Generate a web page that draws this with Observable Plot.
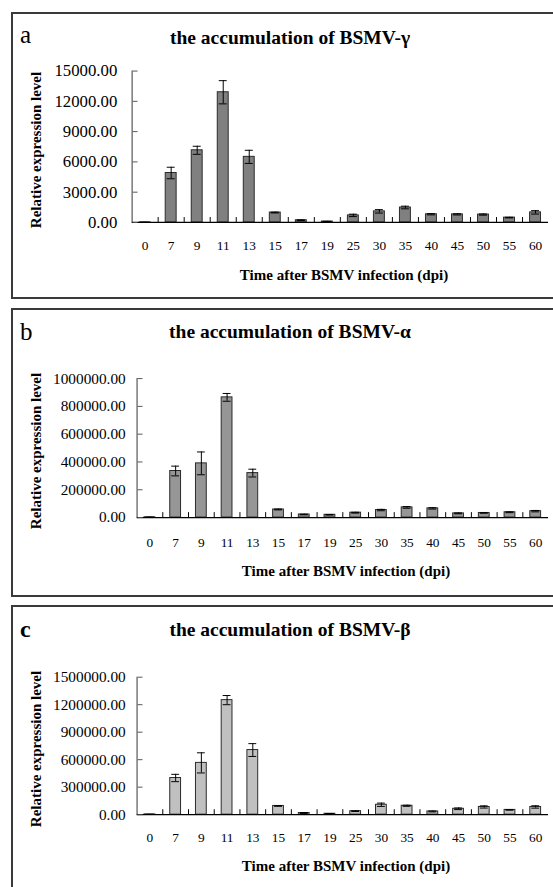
<!DOCTYPE html>
<html><head><meta charset="utf-8">
<script src="https://cdn.jsdelivr.net/npm/d3@7"></script>
<script src="https://cdn.jsdelivr.net/npm/@observablehq/plot@0.6"></script>
<style>
html,body{margin:0;padding:0;background:#fff;width:553px;height:887px;overflow:hidden;}
#root{position:relative;width:553px;height:887px;font-family:"Liberation Serif","Times New Roman",serif;color:#000;overflow:hidden;}
#root svg, #root svg text{font-family:"Liberation Serif","Times New Roman",serif !important;}
.panel{position:absolute;left:11px;width:580px;border:2px solid #3a3a3a;box-sizing:border-box;}
.t{position:absolute;white-space:nowrap;line-height:1;}
.wrap{position:absolute;left:0;}
</style></head><body><div id="root"></div><script>
// ---- data ----
const days = ["0","7","9","11","13","15","17","19","25","30","35","40","45","50","55","60"];
const gammaMean = [10, 4900, 7150, 12900, 6500, 980, 220, 90, 700, 1100, 1480, 810, 800, 780, 480, 1000];
const gammaErr  = [5, 570, 400, 1150, 650, 40, 30, 20, 120, 170, 130, 60, 60, 60, 30, 170];
const alphaMean = [2000, 335000, 390000, 865000, 320000, 58000, 22000, 20000, 35000, 54000, 73000, 66000, 30000, 33000, 38000, 46000];
const alphaErr  = [500, 35000, 82000, 28000, 28000, 3000, 2000, 2000, 3000, 5000, 6000, 5000, 3000, 2000, 3000, 5000];
const betaMean  = [3000, 400000, 565000, 1250000, 705000, 95000, 18000, 10000, 38000, 108000, 97000, 35000, 64000, 84000, 52000, 84000];
const betaErr   = [500, 40000, 110000, 50000, 70000, 4000, 5000, 2000, 4000, 18000, 6000, 5000, 9000, 12000, 3000, 13000];
const gammaTicks = [0, 3000, 6000, 9000, 12000, 15000];
const alphaTicks = [0, 200000, 400000, 600000, 800000, 1000000];
const betaTicks  = [0, 300000, 600000, 900000, 1200000, 1500000];
const titles = ["the accumulation of BSMV-γ", "the accumulation of BSMV-α", "the accumulation of BSMV-β"];
const letters = ["a", "b", "c"];
const yTitle = "Relative expression level";
const xTitle = "Time after BSMV infection (dpi)";

// ---- layout ----
const layout = [
  {mean: gammaMean, err: gammaErr, ticks: gammaTicks, fill: "#808080", top: 12, h: 287, svgTop: 12.7, mt: 58.3, mb: 73.4, ml: 133.3, yFont: 17, yPad: 15, xPad: 18,
   letterBase: 43.3, letterBold: false, titleBase: 44, yTitleY: 150, xTitleBase: 281, xTitleX: 344},
  {mean: alphaMean, err: alphaErr, ticks: alphaTicks, fill: "#969696", top: 307.5, h: 289.5, svgTop: 308.3, mt: 71, mb: 73.3, ml: 138.3, yFont: 15.5, yPad: 11.5, xPad: 20,
   letterBase: 340, letterBold: false, titleBase: 338.5, yTitleY: 451, xTitleBase: 577, xTitleX: 346},
  {mean: betaMean, err: betaErr, ticks: betaTicks, fill: "#c0c0c0", top: 605, h: 290, svgTop: 605.7, mt: 71.6, mb: 74.2, ml: 138.3, yFont: 15.5, yPad: 11.5, xPad: 18,
   letterBase: 636.7, letterBold: true, titleBase: 636, yTitleY: 748.5, xTitleBase: 872, xTitleX: 346}
];

const serif = "'Liberation Serif', 'Times New Roman', serif";
const root = document.getElementById("root");
function addText(txt, {x, base, fs, bold, anchor = "middle"}) {
  const d = document.createElement("div");
  d.className = "t";
  d.textContent = txt;
  d.style.fontSize = fs + "px";
  d.style.fontWeight = bold ? "bold" : "normal";
  d.style.left = x + "px";
  d.style.top = (base - 0.8375 * fs) + "px";
  if (anchor === "middle") d.style.transform = "translateX(-50%)";
  root.appendChild(d);
  return d;
}

layout.forEach((L, k) => {
  const box = document.createElement("div");
  box.className = "panel";
  box.style.top = L.top + "px";
  box.style.height = L.h + "px";
  root.appendChild(box);

  addText(letters[k], {x: 20, base: L.letterBase, fs: L.letterBold ? 24 : 25, bold: L.letterBold, anchor: "start"});
  addText(titles[k], {x: 290, base: L.titleBase, fs: 19.5, bold: true});
  addText(xTitle, {x: L.xTitleX, base: L.xTitleBase, fs: 15, bold: true});
  const yt = document.createElement("div");
  yt.className = "t";
  yt.textContent = yTitle;
  yt.style.fontSize = "15px";
  yt.style.fontWeight = "bold";
  yt.style.left = "35.5px";
  yt.style.top = L.yTitleY + "px";
  yt.style.transform = "translate(-50%,-50%) rotate(-90deg)";
  root.appendChild(yt);

  const data = days.map((d, i) => ({day: d, v: L.mean[i], e: L.err[i]}));
  const width = 560, height = 285, mr = 5;
  const plotW = width - L.ml - mr;
  const plotH = height - L.mt - L.mb;
  const step = plotW / days.length;
  const ymax = L.ticks[L.ticks.length - 1];

  const chart = Plot.plot({
    width, height,
    marginTop: L.mt, marginBottom: L.mb, marginLeft: L.ml, marginRight: mr,
    style: {fontFamily: serif, background: "transparent", overflow: "visible", color: "#000"},
    x: {type: "band", domain: days, paddingInner: 0.58, paddingOuter: 0.29, align: 0.5, round: false},
    y: {domain: [0, ymax]},
    marks: [
      Plot.barY(data, {x: "day", y: "v", fill: L.fill, stroke: "#2a2a2a", strokeWidth: 1}),
      Plot.ruleX(data, {x: "day", y1: d => d.v - d.e, y2: d => d.v + d.e, stroke: "#000", strokeWidth: 1}),
      Plot.tickY(data, {x: "day", y: d => d.v + d.e, stroke: "#000", insetLeft: 1.5, insetRight: 1.5}),
      Plot.tickY(data, {x: "day", y: d => Math.max(0, d.v - d.e), stroke: "#000", insetLeft: 1.5, insetRight: 1.5}),
      Plot.ruleY([0], {stroke: "#000", strokeWidth: 1.2}),
      Plot.ruleX(days.slice(1), {x: d => d, y1: 0, y2: ymax * 5 / plotH, dx: -step / 2, stroke: "#000"}),
      Plot.ruleX(days.slice(0, 1), {x: d => d, y1: 0, y2: ymax, dx: -step / 2, stroke: "#555", strokeWidth: 1.2}),
      Plot.axisY(L.ticks, {anchor: "right", tickSize: 5, dx: -plotW, fill: "none", label: null, stroke: "#555"}),
      Plot.axisY(L.ticks, {anchor: "left", tickSize: 0, tickPadding: L.yPad, tickFormat: d => d.toFixed(2), fontSize: L.yFont, fontFamily: serif, label: null}),
      Plot.axisX({tickSize: 0, tickPadding: L.xPad, fontSize: 13.5, fontFamily: serif, label: null})
    ]
  });
  const wrap = document.createElement("div");
  wrap.className = "wrap";
  wrap.style.top = L.svgTop + "px";
  wrap.appendChild(chart);
  root.appendChild(wrap);
});
</script></body></html>
